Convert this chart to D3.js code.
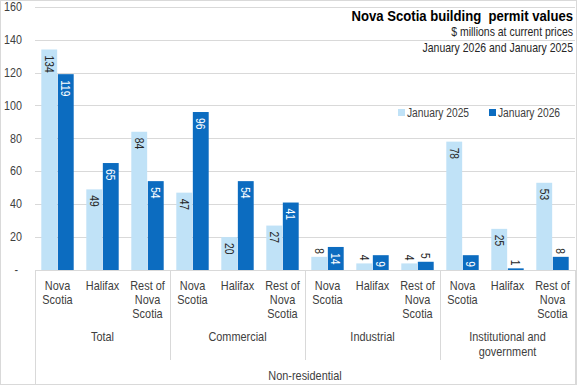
<!DOCTYPE html>
<html><head><meta charset="utf-8">
<script src="https://cdn.jsdelivr.net/npm/d3@7"></script>
<style>
body{margin:0;background:#fff;}
text{font-family:"Liberation Sans",Arial,sans-serif;}
</style></head>
<body><svg id="c" width="577" height="385"></svg>
<script>
const groups = ["Total","Commercial","Industrial","Institutional and government"];
const groupLines = [["Total"],["Commercial"],["Industrial"],["Institutional and","government"]];
const regions = ["Nova Scotia","Halifax","Rest of Nova Scotia"];
const regionLines = [["Nova","Scotia"],["Halifax"],["Rest of","Nova","Scotia"]];
const seriesNames = ["January 2025","January 2026"];
const jan2025 = [134,49,84, 47,20,27, 8,4,4, 78,25,53];
const jan2026 = [119,65,54, 96,54,41, 14,9,5, 9,1,8];
const yTicks = [0,20,40,60,80,100,120,140,160];
const title = "Nova Scotia building  permit values";
const subtitle1 = "$ millions at current prices";
const subtitle2 = "January 2026 and January 2025";
const outerLabel = "Non-residential";

(function(){
const colors = ["#C0E2F7","#0C6CC0"];
const grid = "#d9d9d9";
const txt = "#404040";
const SX = 0.84;

const svg = d3.select("#c");
const W=577,H=385;
const pL=35,pR=575,pT=6.7,pB=270;

function T(parent, x, y, lines, o){
  o = o||{};
  const g = parent.append("g").attr("transform",`translate(${x},${y}) scale(${o.sx||SX},1)`);
  const t = g.append("text").attr("text-anchor",o.anchor||"middle")
    .attr("font-size",o.size||13).attr("fill",o.fill||txt);
  if(o.weight) t.attr("font-weight",o.weight);
  if(o.pre) t.attr("xml:space","preserve");
  lines.forEach((l,k)=>t.append("tspan").attr("x",0).attr("y",k*(o.lh||14.3)).text(l));
  return t;
}

svg.append("rect").attr("x",0.5).attr("y",0.5).attr("width",W-1).attr("height",H-1)
  .attr("fill","#fff").attr("stroke",grid);

const cats = d3.range(groups.length*regions.length);
const x = d3.scaleBand().domain(cats).range([pL,pR]).paddingInner(0.28).paddingOuter(0.14);
const x1 = d3.scaleBand().domain([0,1]).range([0,x.bandwidth()]).paddingInner(0.04);
const y = d3.scaleLinear().domain([0,160]).range([pB,pT]);

svg.append("g").selectAll("line").data(yTicks.filter(d=>d>0)).join("line")
  .attr("x1",pL).attr("x2",pR).attr("y1",d=>Math.round(y(d))+0.5).attr("y2",d=>Math.round(y(d))+0.5)
  .attr("stroke",grid).attr("stroke-width",1);

yTicks.forEach(d=>{
  T(svg, d===0?18:22, y(d)+4.2, [d===0?"-":String(d)], {anchor:"end", size:12.5, sx:0.86});
});

const data = cats.map(i=>({i, vals:[jan2025[i],jan2026[i]]}));
const bars = svg.append("g");
data.forEach(d=>{
  d.vals.forEach((v,s)=>{
    const bx = x(d.i)+x1(s), bw=x1.bandwidth();
    bars.append("rect").attr("x",bx).attr("y",y(v)).attr("width",bw).attr("height",y(0)-y(v))
      .attr("fill",colors[s]);
    const inside = v>=9;
    const cx = bx+bw/2;
    const ty = inside ? y(v)+6 : y(v)-3;
    bars.append("text").attr("transform",`translate(${cx},${ty}) rotate(90) scale(0.82,1)`)
      .attr("text-anchor",inside?"start":"end").attr("dominant-baseline","central")
      .attr("font-size",12.5)
      .attr("fill", inside && s===1 ? "#fff" : "#262626")
      .text(v);
  });
});

svg.append("line").attr("x1",pL).attr("x2",pR).attr("y1",pB+0.5).attr("y2",pB+0.5).attr("stroke",grid);

cats.forEach(i=>{
  T(svg, x(i)+x.bandwidth()/2, 289.5, regionLines[i%regions.length], {size:13, lh:14.3});
});
const step = x.step();
groups.forEach((g,gi)=>{
  const gx0 = pL + gi*regions.length*step;
  const gx1 = gx0 + regions.length*step;
  if(gi>0) svg.append("line").attr("x1",Math.round(gx0)+0.5).attr("x2",Math.round(gx0)+0.5)
     .attr("y1",pB).attr("y2",360).attr("stroke",grid);
  T(svg, (gx0+gx1)/2, 341, groupLines[gi], {size:13, lh:14.7});
});
[pL,pR].forEach(v=>svg.append("line").attr("x1",v+0.5).attr("x2",v+0.5).attr("y1",pB).attr("y2",H).attr("stroke",grid));
T(svg, (pL+pR)/2, 379.5, [outerLabel], {size:13});

T(svg, 573, 21, [title], {anchor:"end", size:15, weight:"bold", fill:"#000", sx:0.875, pre:true});
T(svg, 573, 36, [subtitle1], {anchor:"end", size:12.5, fill:"#262626", sx:0.84});
T(svg, 573, 52, [subtitle2], {anchor:"end", size:12.5, fill:"#262626", sx:0.84});

const leg = [398,489];
seriesNames.forEach((n,s)=>{
  svg.append("rect").attr("x",leg[s]).attr("y",109).attr("width",7).attr("height",7).attr("fill",colors[s]);
  T(svg, leg[s]+9, 117, [n], {anchor:"start", size:12.5, sx:0.82});
});
})();
</script></body></html>
